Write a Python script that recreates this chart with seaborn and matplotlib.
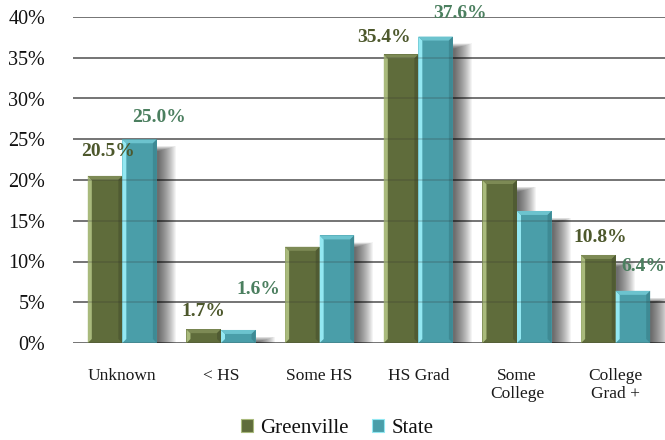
import matplotlib
matplotlib.use("Agg")
import matplotlib.pyplot as plt
from matplotlib.patches import Rectangle, Polygon, Patch
import seaborn as sns
import pandas as pd

# Educational attainment shares (%)
levels = ["Unknown", "< HS", "Some HS", "HS Grad", "Some\nCollege", "College\nGrad +"]
greenville = [20.5, 1.7, 11.8, 35.4, 20.0, 10.8]
state = [25.0, 1.6, 13.2, 37.6, 16.2, 6.4]
series = ["Greenville", "State"]
yticks = [0, 5, 10, 15, 20, 25, 30, 35, 40]

# Which bars carry a value label, and where the label sits (pixels from bar top centre)
greenville_labeled = [True, True, False, True, False, True]
state_labeled = [True, True, False, True, False, True]
greenville_offsets = [(3, 24), (0, 18), (0, 0), (-17, 17), (0, 0), (2, 17)]
state_offsets = [(19, 22), (20, 40), (0, 0), (24, 23), (0, 0), (10, 24)]

face = {"Greenville": "#5F6C3B", "State": "#4A9EA9"}
light = {"Greenville": "#A9BA7C", "State": "#93E8F2"}
top_light = {"Greenville": "#7D8A55", "State": "#6CC3CE"}
dark = {"Greenville": "#4A5530", "State": "#3A828C"}
label_color = {"Greenville": "#4D582C", "State": "#4B7F5F"}

df = pd.DataFrame({
    "level": levels * 2,
    "pct": greenville + state,
    "area": [series[0]] * len(levels) + [series[1]] * len(levels),
})

sns.set_theme(style="white")
serif = ["Liberation Serif", "DejaVu Serif"]
plt.rcParams["font.family"] = serif

fig = plt.figure(figsize=(6.65, 4.4), dpi=100)
ax = fig.add_axes([73 / 665, 1 - 343 / 440, 1 - 73 / 665, (343 - 17) / 440])

sns.barplot(data=df, x="level", y="pct", hue="area", palette=face,
            width=0.7, gap=0, dodge=True, ax=ax, legend=False,
            saturation=1, edgecolor="none", linewidth=0, zorder=3)

ax.set_xlim(-0.5, 5.5)
ax.set_ylim(0, 40)
ax.set_yticks(yticks)
ax.set_yticklabels([f"{t}%" for t in yticks], fontsize=14.5, color="#111111")
ax.tick_params(axis="y", length=0, pad=20)
ax.tick_params(axis="x", length=0, pad=18, labelsize=12.5, colors="#1a1a1a")
ax.set_xlabel("")
ax.set_ylabel("")
for s in ax.spines.values():
    s.set_visible(False)

# horizontal gridlines (behind) and a faint overlay that shows through the bars
for t in yticks:
    ax.axhline(t, color="#858585", lw=1.4, zorder=0)
    ax.axhline(t, color="#303030", lw=1.2, alpha=0.22, zorder=6)

px_x = 6 / 592.0     # data units per pixel horizontally
px_y = 40 / 326.0    # data units per pixel vertically

for container, name, labeled, offsets, vals in [
    (ax.containers[0], "Greenville", greenville_labeled, greenville_offsets, greenville),
    (ax.containers[1], "State", state_labeled, state_offsets, state),
]:
    for i, bar in enumerate(container.patches):
        x0 = bar.get_x()
        w = bar.get_width()
        h = bar.get_height()
        # soft drop shadow to the right
        for k in range(18):
            sx = x0 + (2 + k) * px_x
            top = max(h - (12 - k * 0.3) * px_y, 0)
            ax.add_patch(Rectangle((sx, -3 * px_y), w, top + 3 * px_y,
                                   facecolor="black", edgecolor="none",
                                   alpha=0.045, zorder=1))
        # bevel: light left edge, light top, darker right edge
        b = 4
        bx, by = b * px_x, b * px_y
        ax.add_patch(Polygon([(x0, 0), (x0, h), (x0 + bx, h - by), (x0 + bx, by)],
                             closed=True, facecolor=light[name], edgecolor="none",
                             zorder=4))
        ax.add_patch(Polygon([(x0, h), (x0 + w, h), (x0 + w - bx, h - by), (x0 + bx, h - by)],
                             closed=True, facecolor=top_light[name], edgecolor="none",
                             zorder=4))
        ax.add_patch(Polygon([(x0 + w, h), (x0 + w, 0), (x0 + w - bx, by), (x0 + w - bx, h - by)],
                             closed=True, facecolor=dark[name], edgecolor="none",
                             alpha=0.7, zorder=4))
        if labeled[i]:
            dx, dy = offsets[i]
            ax.annotate(f"{vals[i]:.1f}%", (x0 + w / 2, h), xytext=(dx, dy),
                        textcoords="offset pixels", ha="center", va="center",
                        fontsize=14, fontweight="bold", color=label_color[name],
                        family=serif, zorder=7, annotation_clip=False)

handles = [Patch(facecolor=face[s], edgecolor=light[s], linewidth=0.8) for s in series]
leg = fig.legend(handles, series, loc="center", bbox_to_anchor=(0.507, 0.027), ncol=2,
                 frameon=False, fontsize=15,
                 handlelength=0.6, handleheight=0.6,
                 handletextpad=0.35, columnspacing=1.1, borderpad=0)
for txt in leg.get_texts():
    txt.set_fontfamily(serif)
    txt.set_color("#111111")

fig.savefig("out.png", dpi=100)
